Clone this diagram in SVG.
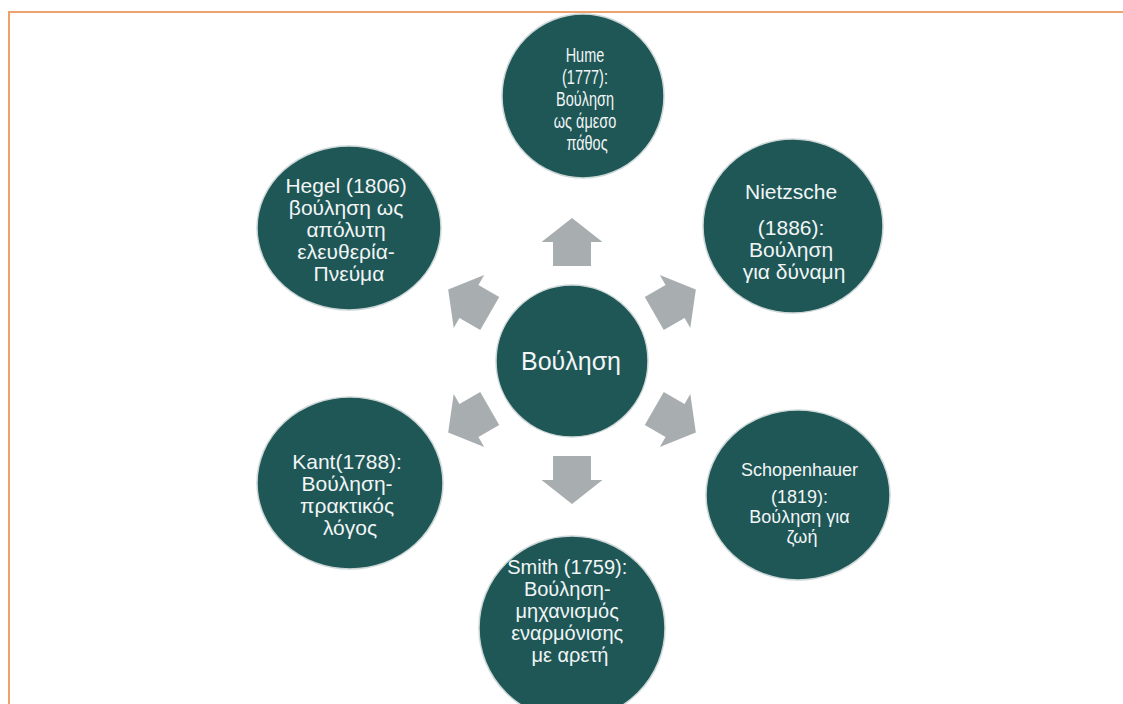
<svg xmlns="http://www.w3.org/2000/svg" xmlns:xlink="http://www.w3.org/1999/xlink" width="1123" height="704" viewBox="0 0 1123 704">
  <style>
    .node { fill: #1F5757; stroke: #CDD7D7; stroke-width: 1.5; }
    .arrow { fill: #A8AEB0; }
    .t { font-family: "Liberation Sans", Arial, sans-serif; fill: #F1F5F5; text-anchor: middle; }
    .frame { stroke: #EDA26E; stroke-width: 2; fill: none; }
  </style>
  <defs>
    <polygon id="arr" class="arrow" points="-19,-95 19,-95 19,-119 30.5,-119 0,-143 -30.5,-119 -19,-119"/>
  </defs>
  <rect width="1123" height="704" fill="#FFFFFF"/>
  <polyline class="frame" points="9,704 9,12 1123,12"/>

  <g id="connectors">
    <use xlink:href="#arr" href="#arr" transform="translate(572 361) rotate(0)"/>
    <use xlink:href="#arr" href="#arr" transform="translate(572 361) rotate(60)"/>
    <use xlink:href="#arr" href="#arr" transform="translate(572 361) rotate(120)"/>
    <use xlink:href="#arr" href="#arr" transform="translate(572 361) rotate(180)"/>
    <use xlink:href="#arr" href="#arr" transform="translate(572 361) rotate(240)"/>
    <use xlink:href="#arr" href="#arr" transform="translate(572 361) rotate(300)"/>
  </g>

  <g id="center">
    <ellipse class="node" cx="572" cy="361" rx="76" ry="76"/>
    <text class="t" x="571" y="370" font-size="25">Βούληση</text>
  </g>

  <g id="hume">
    <ellipse class="node" cx="583" cy="96" rx="81" ry="82"/>
    <g transform="translate(587 0) scale(0.69 1)">
      <text class="t" font-size="21">
        <tspan x="0" y="62">Hume</tspan>
        <tspan x="0" y="84">(1777):</tspan>
        <tspan x="0" y="106">Βούληση</tspan>
        <tspan x="0" y="128">ως άμεσο</tspan>
        <tspan x="0" y="150">πάθος</tspan>
      </text>
    </g>
  </g>

  <g id="nietzsche">
    <ellipse class="node" cx="793" cy="226" rx="90" ry="87"/>
    <text class="t" font-size="21">
      <tspan x="794" y="199">Nietzsche</tspan>
      <tspan x="794" y="235">(1886):</tspan>
      <tspan x="794" y="257">Βούληση</tspan>
      <tspan x="794" y="279">για δύναμη</tspan>
    </text>
  </g>

  <g id="schopenhauer">
    <ellipse class="node" cx="798" cy="495" rx="92" ry="85"/>
    <text class="t" font-size="18">
      <tspan x="802" y="476">Schopenhauer</tspan>
      <tspan x="802" y="503">(1819):</tspan>
      <tspan x="802" y="523">Βούληση για</tspan>
      <tspan x="802" y="543">ζωή</tspan>
    </text>
  </g>

  <g id="smith">
    <ellipse class="node" cx="572" cy="628" rx="93" ry="92"/>
    <text class="t" font-size="20">
      <tspan x="570" y="574">Smith (1759):</tspan>
      <tspan x="570" y="596">Βούληση-</tspan>
      <tspan x="570" y="618">μηχανισμός</tspan>
      <tspan x="570" y="640">εναρμόνισης</tspan>
      <tspan x="570" y="662">με αρετή</tspan>
    </text>
  </g>

  <g id="kant">
    <ellipse class="node" cx="350" cy="483" rx="93" ry="86"/>
    <text class="t" font-size="21">
      <tspan x="350" y="469">Kant(1788):</tspan>
      <tspan x="350" y="491">Βούληση-</tspan>
      <tspan x="350" y="513">πρακτικός</tspan>
      <tspan x="350" y="535">λόγος</tspan>
    </text>
  </g>

  <g id="hegel">
    <ellipse class="node" cx="349" cy="228" rx="92" ry="82"/>
    <text class="t" font-size="21">
      <tspan x="349" y="193">Hegel (1806)</tspan>
      <tspan x="349" y="215">βούληση ως</tspan>
      <tspan x="349" y="237">απόλυτη</tspan>
      <tspan x="349" y="259">ελευθερία-</tspan>
      <tspan x="349" y="281">Πνεύμα</tspan>
    </text>
  </g>
</svg>
